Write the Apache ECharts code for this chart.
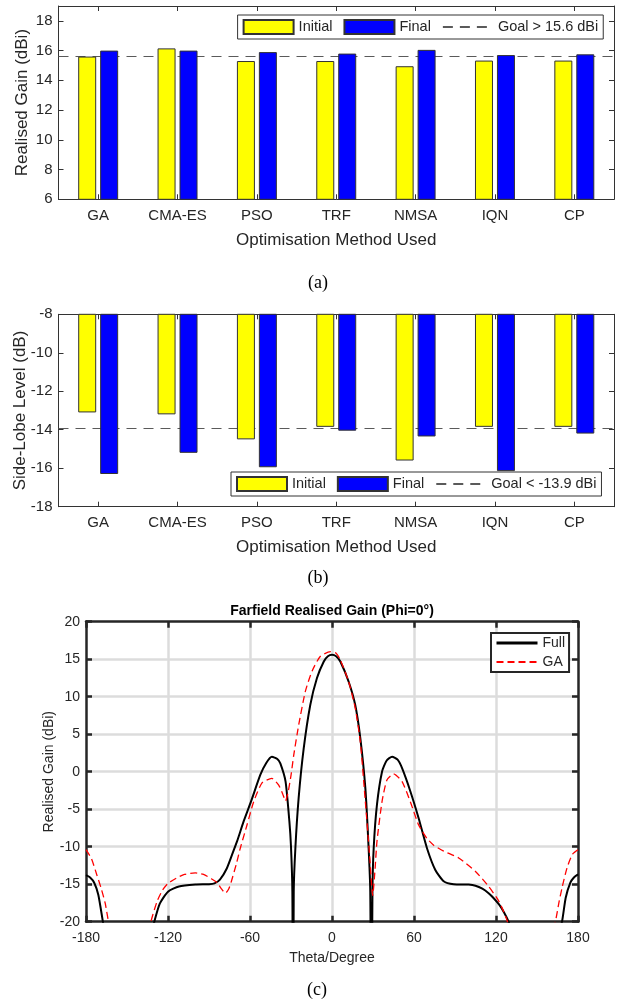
<!DOCTYPE html>
<html>
<head>
<meta charset="utf-8">
<script src="https://cdn.jsdelivr.net/npm/echarts@6/dist/echarts.min.js"></script>
<style>
html,body{margin:0;padding:0;background:#fff;}
#chart{width:618px;height:1002px;}
</style>
</head>
<body>
<div id="chart"></div>
<script>
// ---------- data ----------
const categories = ['GA', 'CMA-ES', 'PSO', 'TRF', 'NMSA', 'IQN', 'CP'];
const gainInitial = [15.6, 16.15, 15.3, 15.3, 14.95, 15.33, 15.33];
const gainFinal = [16.0, 16.0, 15.9, 15.8, 16.05, 15.7, 15.75];
const gainGoal = 15.6;
const sllInitial = [-13.1, -13.2, -14.5, -13.85, -15.6, -13.85, -13.85];
const sllFinal = [-16.3, -15.2, -15.95, -14.05, -14.35, -16.15, -14.2];
const sllGoal = -13.9;

const thetaFull = [-180,-177,-174,-171,-168,-165,-160,-150,-140,-134,-130,-126,-120,-112,-100,-90,-86,-82,-77,-73,-69.5,-64.6,-59.3,-52.4,-48,-44,-40,-37.8,-34,-31.2,-30,-29,-28.5,-28,-26.8,-24.4,-20.7,-15.9,-11,-6,-3,0,3,6.1,12.2,17,20.7,24.4,26.8,28,28.8,29.6,30.5,32.9,36.6,40,44,48,51.2,57.3,63.4,69.5,75.6,81.7,89,100,105,110,114.6,118,122.2,126,129.2,133,140,150,160,165,168.3,171,174.4,177,180];
const gainFull = [-13.8,-14.1,-14.8,-16.4,-19.6,-23,-28,-32,-28,-23,-20,-17.6,-16.0,-15.3,-15.05,-15.0,-14.9,-14.4,-12.9,-11.0,-9.3,-6.6,-4.0,-0.4,1.2,2.0,1.7,1.1,-1.3,-6.6,-10,-16,-40,-16,-10.2,-3.5,3.1,8.9,12.5,14.7,15.4,15.6,15.4,14.7,12.0,8.9,4.5,-2.2,-10.2,-16,-40,-16,-10.2,-4.4,0,1.5,2.0,1.6,0.5,-2.6,-6.2,-10.2,-13.1,-14.6,-15.0,-15.05,-15.2,-15.6,-16.2,-16.8,-17.7,-18.8,-20,-22,-27,-32,-27,-22,-20,-16.8,-14.8,-14.1,-13.7];
const thetaGA = [-180,-176,-172,-169,-166,-163,-155,-145,-138,-132.5,-128,-124,-120,-114,-108,-100,-94,-88,-84,-81,-78,-75.5,-73.6,-70,-67.1,-62.2,-57.3,-51.2,-44,-39,-36,-34,-32,-30,-28,-24.4,-19.5,-14.6,-8.5,-1,3,6.1,12.2,17,20.7,24.4,27.5,29.8,31.5,32.9,36.6,40.2,45,51.2,57.3,63.4,69.5,74.4,81.7,92.7,105,114.6,122.2,128.4,135,145,155,163.4,166,168.3,172,176,180];
const gainGA = [-10.4,-11.6,-13.8,-15.5,-17.5,-20.5,-26,-29,-25,-20,-17.3,-15.8,-14.9,-14.2,-13.7,-13.5,-13.7,-14.3,-14.8,-15.6,-16.2,-15.6,-14.6,-12.3,-10.2,-7.1,-4.0,-1.5,-0.9,-1.8,-3.0,-3.9,-2.6,-0.5,2.2,6.2,10.7,13.4,15.4,16.0,15.8,14.9,12.0,8.5,4.0,-4.0,-11.1,-16.5,-13,-9.3,-4.0,-1.1,-0.3,-1.3,-4.0,-7.1,-8.9,-9.8,-10.6,-11.5,-13.3,-15.3,-17.3,-20,-25,-29,-25,-20,-17.5,-15.5,-12.8,-11.0,-10.4];

// ---------- style helpers ----------
const FONT = 'Liberation Sans, Arial, sans-serif';
const TXT = '#262626';
const AX = '#333333';
const pairs = (xs, ys) => xs.map((x, i) => [x, ys[i]]);

function catAxis(gi, top) {
  return {
    type: 'category', gridIndex: gi, data: categories, position: top ? 'top' : 'bottom',
    boundaryGap: true,
    axisLine: { show: true, onZero: false, lineStyle: { color: AX, width: 1 } },
    axisTick: { show: true, inside: true, alignWithLabel: true, length: 5, lineStyle: { color: AX } },
    axisLabel: top ? { show: false } : { show: true, color: TXT, fontFamily: FONT, fontSize: 15, margin: 9 },
    splitLine: { show: false },
    name: top ? '' : 'Optimisation Method Used', nameLocation: 'middle', nameGap: gi === 0 ? 33 : 32,
    nameMoveOverlap: false,
    nameTextStyle: { color: TXT, fontFamily: FONT, fontSize: 17 }
  };
}
function valAxis(gi, right, min, max, name) {
  return {
    type: 'value', gridIndex: gi, min: min, max: max, interval: 2, position: right ? 'right' : 'left',
    axisLine: { show: true, onZero: false, lineStyle: { color: AX, width: 1 } },
    axisTick: { show: true, inside: true, length: 5, lineStyle: { color: AX } },
    axisLabel: right ? { show: false } : { show: true, color: TXT, fontFamily: FONT, fontSize: 15, margin: 6, showMaxLabel: max === 19 ? false : true },
    splitLine: { show: false },
    name: right ? '' : name, nameLocation: 'middle', nameGap: gi === 0 ? 28 : 30,
    nameMoveOverlap: false,
    nameTextStyle: { color: TXT, fontFamily: FONT, fontSize: 17 }
  };
}
function barSeries(name, gi, data, color) {
  return {
    type: 'bar', name: name, xAxisIndex: gi * 2, yAxisIndex: gi * 2, data: data,
    barWidth: 18, barGap: '22%', z: 3, clip: true,
    itemStyle: { color: color, borderColor: '#333', borderWidth: 1 }
  };
}
function goalSeries(name, gi, value) {
  return {
    type: 'line', name: name, xAxisIndex: gi * 2, yAxisIndex: gi * 2, data: [],
    symbol: 'none', z: 1,
    lineStyle: { color: '#5a5a5a', width: 1.2, type: [10, 7] },
    itemStyle: { color: '#5a5a5a' },
    markLine: {
      silent: true, symbol: ['none', 'none'], z: 1, label: { show: false },
      lineStyle: { color: '#5a5a5a', width: 1.2, type: [10, 7] },
      data: [{ yAxis: value }]
    }
  };
}
const hiddenSymbol = { opacity: 0, borderWidth: 0 };
function barLegend(left, top, goalName) {
  return {
    left: left, top: top, orient: 'horizontal',
    backgroundColor: '#fff', borderColor: '#333', borderWidth: 1, padding: [4, 5],
    itemWidth: 50, itemHeight: 14, itemGap: 11,
    textStyle: { color: TXT, fontFamily: FONT, fontSize: 14.5 },
    data: [{ name: 'Initial', icon: 'rect' }, { name: 'Final', icon: 'rect' }, { name: goalName, itemStyle: hiddenSymbol }],
    selectedMode: false
  };
}
function polarAxisX(top) {
  return {
    type: 'value', gridIndex: 2, min: -180, max: 180, interval: 60, position: top ? 'top' : 'bottom',
    axisLine: { show: true, onZero: false, lineStyle: { color: '#262626', width: 2.5 } },
    axisTick: { show: true, inside: true, length: 6, lineStyle: { color: '#262626', width: 2.5 } },
    axisLabel: top ? { show: false } : { show: true, color: TXT, fontFamily: FONT, fontSize: 14, margin: 9 },
    splitLine: top ? { show: false } : { show: true, showMinLine: false, showMaxLine: false, lineStyle: { color: '#dcdcdc', width: 2.5 } },
    name: top ? '' : 'Theta/Degree', nameLocation: 'middle', nameGap: 29,
    nameMoveOverlap: false,
    nameTextStyle: { color: TXT, fontFamily: FONT, fontSize: 14 }
  };
}
function polarAxisY(right) {
  return {
    type: 'value', gridIndex: 2, min: -20, max: 20, interval: 5, position: right ? 'right' : 'left',
    axisLine: { show: true, onZero: false, lineStyle: { color: '#262626', width: 2.5 } },
    axisTick: { show: true, inside: true, length: 6, lineStyle: { color: '#262626', width: 2.5 } },
    axisLabel: right ? { show: false } : { show: true, color: TXT, fontFamily: FONT, fontSize: 14, margin: 6 },
    splitLine: right ? { show: false } : { show: true, showMinLine: false, showMaxLine: false, lineStyle: { color: '#dcdcdc', width: 2.5 } },
    name: right ? '' : 'Realised Gain (dBi)', nameLocation: 'middle', nameGap: 30,
    nameMoveOverlap: false,
    nameTextStyle: { color: TXT, fontFamily: FONT, fontSize: 14 }
  };
}

const chart = echarts.init(document.getElementById('chart'), null, { renderer: 'canvas' });
const option = {
  animation: false,
  backgroundColor: '#fff',
  grid: [
    { left: 58.5, top: 6, width: 555.5, height: 193.3, containLabel: false },
    { left: 58.5, top: 314.3, width: 555.5, height: 192.4, containLabel: false },
    { left: 86, top: 621.7, width: 492, height: 300, containLabel: false }
  ],
  xAxis: [catAxis(0, false), catAxis(0, true), catAxis(1, false), catAxis(1, true), polarAxisX(false), polarAxisX(true)],
  yAxis: [
    valAxis(0, false, 6, 19, 'Realised Gain (dBi)'), valAxis(0, true, 6, 19, ''),
    valAxis(1, false, -18, -8, 'Side-Lobe Level (dB)'), valAxis(1, true, -18, -8, ''),
    polarAxisY(false), polarAxisY(true)
  ],
  legend: [
    barLegend(237.6, 15, 'Goal > 15.6 dBi'),
    barLegend(231, 472, 'Goal < -13.9 dBi'),
    {
      left: 491, top: 633, orient: 'vertical',
      backgroundColor: '#fff', borderColor: '#262626', borderWidth: 2, padding: [3, 4, 3, 4],
      itemWidth: 41, itemHeight: 14, itemGap: 5,
      textStyle: { color: TXT, fontFamily: FONT, fontSize: 14 },
      data: [{ name: 'Full', itemStyle: hiddenSymbol, lineStyle: { width: 3 } }, { name: 'GA', itemStyle: hiddenSymbol }], selectedMode: false
    }
  ],
  series: [
    barSeries('Initial', 0, gainInitial, '#ffff00'),
    barSeries('Final', 0, gainFinal, '#0000ff'),
    goalSeries('Goal > 15.6 dBi', 0, gainGoal),
    barSeries('Initial', 1, sllInitial, '#ffff00'),
    barSeries('Final', 1, sllFinal, '#0000ff'),
    goalSeries('Goal < -13.9 dBi', 1, sllGoal),
    {
      type: 'line', name: 'Full', xAxisIndex: 4, yAxisIndex: 4, data: pairs(thetaFull, gainFull),
      symbol: 'none', smooth: 0.2, clip: true, z: 3,
      lineStyle: { color: '#000', width: 2 }, itemStyle: { color: '#000' }
    },
    {
      type: 'line', name: 'GA', xAxisIndex: 4, yAxisIndex: 4, data: pairs(thetaGA, gainGA),
      symbol: 'none', smooth: 0.2, clip: true, z: 4,
      lineStyle: { color: '#ff0000', width: 1.3, type: [7, 4] }, itemStyle: { color: '#ff0000' }
    }
  ],
  graphic: [
    { type: 'text', x: 318, y: 283, style: { text: '(a)', font: '18px "Liberation Serif", serif', fill: '#000', textAlign: 'center', textVerticalAlign: 'middle' } },
    { type: 'text', x: 318, y: 578, style: { text: '(b)', font: '18px "Liberation Serif", serif', fill: '#000', textAlign: 'center', textVerticalAlign: 'middle' } },
    { type: 'text', x: 317, y: 990, style: { text: '(c)', font: '18px "Liberation Serif", serif', fill: '#000', textAlign: 'center', textVerticalAlign: 'middle' } },
    { type: 'text', x: 332, y: 611, style: { text: 'Farfield Realised Gain (Phi=0°)', font: 'bold 14px "Liberation Sans", Arial, sans-serif', fill: '#000', textAlign: 'center', textVerticalAlign: 'middle' } }
  ]
};
chart.setOption(option);
</script>
</body>
</html>
